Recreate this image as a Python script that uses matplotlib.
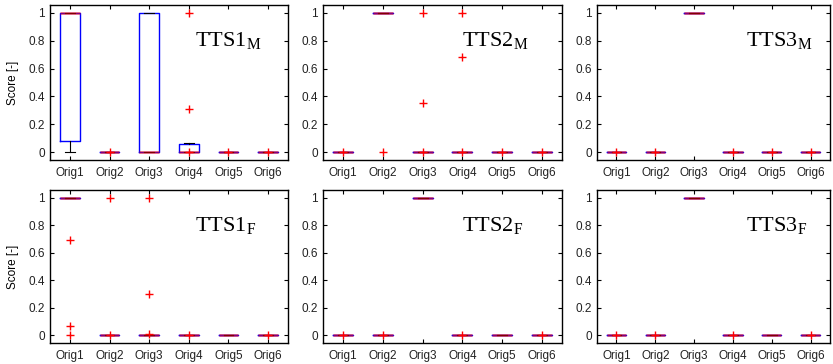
import matplotlib.pyplot as plt

plt.rcParams['font.family'] = ['Liberation Sans', 'DejaVu Sans']
plt.rcParams['mathtext.fontset'] = 'stix'

origs = ['Orig1', 'Orig2', 'Orig3', 'Orig4', 'Orig5', 'Orig6']
yticks = [0, 0.2, 0.4, 0.6, 0.8, 1]
yticklabels = ['0', '0.2', '0.4', '0.6', '0.8', '1']

# box stats: q1, median, q3, whisker low / high, outliers
tts1m_q1 = [0.08, 0, 0, 0, 0, 0]
tts1m_med = [1, 0, 0, 0, 0, 0]
tts1m_q3 = [1, 0, 1, 0.06, 0, 0]
tts1m_lo = [0, 0, 0, 0, 0, 0]
tts1m_hi = [1, 0, 1, 0.07, 0, 0]
tts1m_out = [[], [0], [], [1, 0.31, 0], [0], [0]]

tts2m_q1 = [0, 1, 0, 0, 0, 0]
tts2m_med = [0, 1, 0, 0, 0, 0]
tts2m_q3 = [0, 1, 0, 0, 0, 0]
tts2m_lo = [0, 1, 0, 0, 0, 0]
tts2m_hi = [0, 1, 0, 0, 0, 0]
tts2m_out = [[0], [0], [1, 0.35, 0], [1, 0.68, 0], [0], [0]]

tts3m_q1 = [0, 0, 1, 0, 0, 0]
tts3m_med = [0, 0, 1, 0, 0, 0]
tts3m_q3 = [0, 0, 1, 0, 0, 0]
tts3m_lo = [0, 0, 1, 0, 0, 0]
tts3m_hi = [0, 0, 1, 0, 0, 0]
tts3m_out = [[0], [0], [], [0.005], [0], [0]]

tts1f_q1 = [1, 0, 0, 0, 0, 0]
tts1f_med = [1, 0, 0, 0, 0, 0]
tts1f_q3 = [1, 0, 0, 0, 0, 0]
tts1f_lo = [1, 0, 0, 0, 0, 0]
tts1f_hi = [1, 0, 0, 0, 0, 0]
tts1f_out = [[0.69, 0.065, 0], [1, 0], [1, 0.30, 0.01], [0], [], [0.005]]

tts2f_q1 = [0, 0, 1, 0, 0, 0]
tts2f_med = [0, 0, 1, 0, 0, 0]
tts2f_q3 = [0, 0, 1, 0, 0, 0]
tts2f_lo = [0, 0, 1, 0, 0, 0]
tts2f_hi = [0, 0, 1, 0, 0, 0]
tts2f_out = [[0], [0], [], [0], [], [0]]

tts3f_q1 = [0, 0, 1, 0, 0, 0]
tts3f_med = [0, 0, 1, 0, 0, 0]
tts3f_q3 = [0, 0, 1, 0, 0, 0]
tts3f_lo = [0, 0, 1, 0, 0, 0]
tts3f_hi = [0, 0, 1, 0, 0, 0]
tts3f_out = [[0], [0], [], [0], [], [0]]

panels = [
    (r'TTS1$_\mathregular{M}$', tts1m_q1, tts1m_med, tts1m_q3, tts1m_lo, tts1m_hi, tts1m_out),
    (r'TTS2$_\mathregular{M}$', tts2m_q1, tts2m_med, tts2m_q3, tts2m_lo, tts2m_hi, tts2m_out),
    (r'TTS3$_\mathregular{M}$', tts3m_q1, tts3m_med, tts3m_q3, tts3m_lo, tts3m_hi, tts3m_out),
    (r'TTS1$_\mathregular{F}$', tts1f_q1, tts1f_med, tts1f_q3, tts1f_lo, tts1f_hi, tts1f_out),
    (r'TTS2$_\mathregular{F}$', tts2f_q1, tts2f_med, tts2f_q3, tts2f_lo, tts2f_hi, tts2f_out),
    (r'TTS3$_\mathregular{F}$', tts3f_q1, tts3f_med, tts3f_q3, tts3f_lo, tts3f_hi, tts3f_out),
]

fig = plt.figure(figsize=(8.33, 3.64), dpi=100)

# axes rectangles in pixels (left, top, right, bottom)
W, H = 833, 364
cols = [(50, 288), (323, 562), (597, 830)]
rows = [(5, 160), (190, 343)]
label_x = [0.61, 0.58, 0.64]

for k, (name, q1, med, q3, lo, hi, out) in enumerate(panels):
    r, c = divmod(k, 3)
    x0, x1 = cols[c]
    y0, y1 = rows[r]
    ax = fig.add_axes([x0 / W, 1 - y1 / H, (x1 - x0) / W, (y1 - y0) / H])

    stats = []
    for i in range(len(origs)):
        stats.append(dict(q1=q1[i], med=med[i], q3=q3[i], whislo=lo[i],
                          whishi=hi[i], fliers=out[i]))
    ax.bxp(stats, positions=range(1, 7), widths=0.5, showfliers=True,
           boxprops=dict(color='blue', linewidth=1),
           medianprops=dict(color='red', alpha=0.5, linewidth=2),
           whiskerprops=dict(color='black', linewidth=0.8),
           capprops=dict(color='black', linewidth=0.8),
           capwidths=0.25,
           flierprops=dict(marker='+', markeredgecolor='red', markersize=6,
                           markeredgewidth=1))

    ax.set_xlim(0.5, 6.5)
    ax.set_ylim(-0.055, 1.055)
    ax.set_xticks(range(1, 7))
    ax.set_xticklabels(origs, fontsize=8.5, color='#222222')
    ax.set_yticks(yticks)
    ax.set_yticklabels(yticklabels, fontsize=8.5, color='#222222')
    ax.tick_params(direction='in', length=3, top=True, right=True, width=0.8)
    ax.tick_params(axis='x', pad=5)
    for s in ax.spines.values():
        s.set_linewidth(1)
    if c == 0:
        ax.set_ylabel('Score [-]', fontsize=8.5, labelpad=7)
    ax.text(label_x[c], 0.77, name, transform=ax.transAxes, ha='left',
            va='center', fontsize=16, family='Liberation Serif')

fig.savefig('out.png', dpi=100)
